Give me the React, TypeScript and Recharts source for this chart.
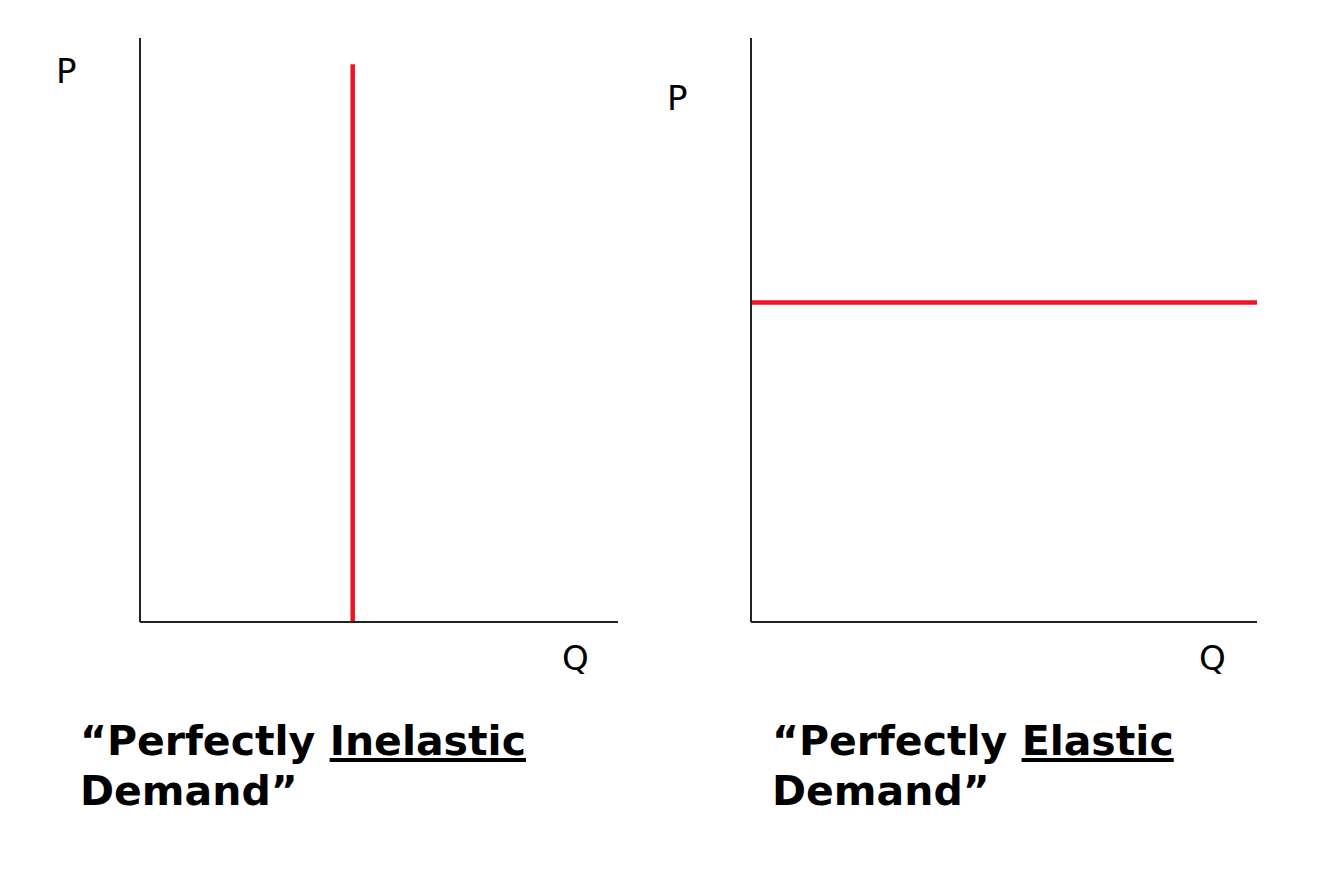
import React from "react";
import { LineChart, Line, XAxis, YAxis } from "recharts";

// demand curves, Q on x, P on y (arbitrary 0-10 units)
const inelasticQ = [4.45, 4.45];
const inelasticP = [0, 9.55];
const elasticQ = [0, 10];
const elasticP = [5.47, 5.47];

const axisLabels = ["P", "Q"];
const titles = [
  { pre: "“Perfectly ", key: "Inelastic", post: "Demand”" },
  { pre: "“Perfectly ", key: "Elastic", post: "Demand”" },
];

const toRows = (qs: number[], ps: number[]) => qs.map((q, i) => ({ q, p: ps[i] }));

const RED = "#ee1424";
const AXIS = "#222";
const FONT = "'DejaVu Sans', Verdana, sans-serif";

function Panel({ rows, left, width, margin }: any) {
  return (
    <div style={{ position: "absolute", left, top: 0 }}>
      <LineChart width={width} height={875} data={rows} margin={margin}>
        <XAxis
          type="number"
          dataKey="q"
          domain={[0, 10]}
          height={1}
          tick={false}
          tickLine={false}
          axisLine={{ stroke: AXIS, strokeWidth: 2 }}
        />
        <YAxis
          type="number"
          dataKey="p"
          domain={[0, 10]}
          width={1}
          tick={false}
          tickLine={false}
          axisLine={{ stroke: AXIS, strokeWidth: 2 }}
        />
        <Line
          type="linear"
          dataKey="p"
          stroke={RED}
          strokeWidth={4.5}
          dot={false}
          activeDot={false}
          isAnimationActive={false}
        />
      </LineChart>
    </div>
  );
}

function Title({ t, left }: any) {
  return (
    <div
      style={{
        position: "absolute",
        left,
        top: 716,
        fontFamily: FONT,
        fontWeight: "bold",
        fontSize: 41,
        lineHeight: "50px",
        color: "#000",
        whiteSpace: "nowrap",
      }}
    >
      {t.pre}
      <span style={{ textDecoration: "underline" }}>{t.key}</span>
      <br />
      {t.post}
    </div>
  );
}

export default function App() {
  const lbl = { fontFamily: FONT, fontSize: 34, fill: "#000" };
  return (
    <div style={{ position: "absolute", left: 0, top: 0, width: 1334, height: 875, background: "#fff" }}>
      <Panel
        rows={toRows(inelasticQ, inelasticP)}
        left={0}
        width={667}
        margin={{ top: 38, right: 49, bottom: 252, left: 139 }}
      />
      <Panel
        rows={toRows(elasticQ, elasticP)}
        left={611}
        width={723}
        margin={{ top: 38, right: 77, bottom: 252, left: 139 }}
      />
      <svg width={1334} height={875} style={{ position: "absolute", left: 0, top: 0, pointerEvents: "none" }}>
        <text x={56} y={83} style={lbl}>{axisLabels[0]}</text>
        <text x={562} y={670} style={lbl}>{axisLabels[1]}</text>
        <text x={667} y={110} style={lbl}>{axisLabels[0]}</text>
        <text x={1199} y={670} style={lbl}>{axisLabels[1]}</text>
      </svg>
      <Title t={titles[0]} left={80} />
      <Title t={titles[1]} left={772} />
    </div>
  );
}
